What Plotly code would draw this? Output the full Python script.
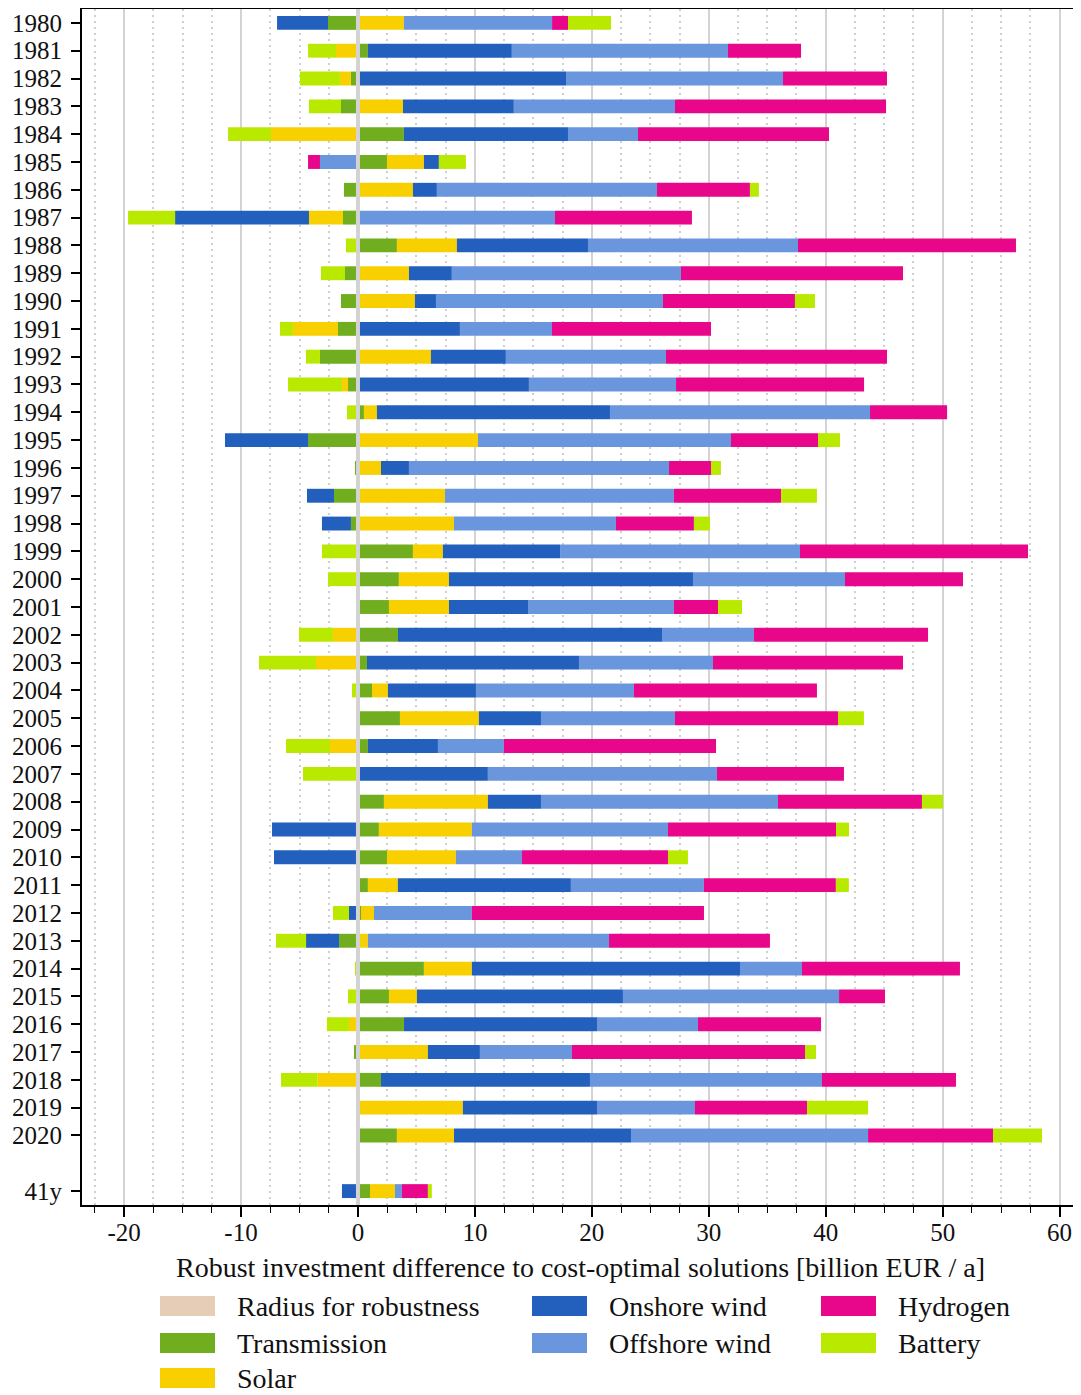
import plotly.graph_objects as go

# ---------------- data ----------------
categories = ["1980", "1981", "1982", "1983", "1984", "1985", "1986", "1987", "1988", "1989",
              "1990", "1991", "1992", "1993", "1994", "1995", "1996", "1997", "1998", "1999",
              "2000", "2001", "2002", "2003", "2004", "2005", "2006", "2007", "2008", "2009",
              "2010", "2011", "2012", "2013", "2014", "2015", "2016", "2017", "2018", "2019",
              "2020", "41y"]

transmission = [-2.56, 0.85, -0.6, -1.45, 3.93, 2.48, -1.2, -1.28, 3.33, -1.11,
                -1.45, -1.71, -3.25, -0.85, 0.51, -4.27, -0.26, -2.05, -0.6, 4.7,
                3.5, 2.65, 3.42, 0.77, 1.2, 3.59, 0.85, 0.0, 2.22, 1.79,
                2.48, 0.85, 0.26, -1.62, 5.64, 2.65, 3.93, -0.34, 1.97, 0.0,
                3.33, 1.03]
solar = [3.93, -1.88, -0.94, 3.85, -7.44, 3.16, 4.7, -2.91, 5.13, 4.36,
         4.87, -3.85, 6.24, -0.51, 1.11, 10.26, 1.97, 7.44, 8.21, 2.56,
         4.28, 5.13, -2.14, -3.59, 1.36, 6.75, -2.39, 0.0, 8.89, 7.95,
         5.9, 2.56, 1.11, 0.85, 4.1, 2.39, -0.77, 5.98, -3.45, 8.97,
         4.88, 2.13]
onshore_wind = [-4.36, 12.31, 17.79, 9.48, 14.03, 1.28, 2.05, -11.45, 11.21, 3.67,
                1.8, 8.72, 6.41, 14.62, 19.93, -7.1, 2.39, -2.31, -2.48, 10.02,
                20.87, 6.76, 22.58, 18.13, 7.53, 5.31, 5.99, 11.11, 4.54, -7.35,
                -7.18, 14.8, -0.77, -2.82, 22.93, 17.62, 16.51, 4.45, 17.87, 11.47,
                15.14, -1.37]
offshore_wind = [12.67, 18.48, 18.56, 13.78, 5.99, -3.25, 18.82, 16.85, 17.96, 19.59,
                 19.41, 7.87, 13.69, 12.58, 22.24, 21.64, 22.24, 19.58, 13.85, 20.52,
                 13.0, 12.48, 7.87, 11.46, 13.51, 11.46, 5.64, 19.59, 20.27, 16.77,
                 5.65, 11.37, 8.37, 20.62, 5.3, 18.48, 8.64, 7.87, 19.84, 8.38,
                 20.27, 0.6]
hydrogen = [1.36, 6.25, 8.89, 18.05, 16.33, -1.02, 7.95, 11.71, 18.64, 18.99,
            11.29, 13.6, 18.9, 16.08, 6.59, 7.44, 3.59, 9.16, 6.67, 19.5,
            10.09, 3.77, 14.88, 16.25, 15.65, 13.94, 18.14, 10.86, 12.31, 14.37,
            12.48, 11.29, 19.85, 13.76, 13.51, 3.93, 10.52, 19.93, 11.46, 9.58,
            10.69, 2.22]
battery = [3.68, -2.39, -3.42, -2.74, -3.67, 2.31, 0.77, -4.02, -1.03, -2.05,
           1.71, -1.11, -1.2, -4.62, -0.94, 1.88, 0.85, 3.07, 1.37, -3.08,
           -2.56, 2.05, -2.9, -4.87, -0.51, 2.22, -3.76, -4.7, 1.8, 1.11,
           1.71, 1.11, -1.37, -2.57, -0.26, -0.85, -1.88, 0.94, -3.13, 5.22,
           4.19, 0.34]

x_ticks = [-20, -10, 0, 10, 20, 30, 40, 50, 60]
x_title = "Robust investment difference to cost-optimal solutions [billion EUR / a]"

# ---------------- styling ----------------
FONT = "Liberation Serif"
TEXT_SIZE = 28
TICK_SIZE = 25
colors = {
    "Radius for robustness": "#e6cdb8",
    "Transmission": "#70ae20",
    "Solar": "#f8d000",
    "Onshore wind": "#2360bd",
    "Offshore wind": "#6a96de",
    "Hydrogen": "#e8068a",
    "Battery": "#bae900",
}

# category row positions (one blank row before the 41y aggregate)
row_pos = list(range(len(categories) - 1)) + [len(categories)]

fig = go.Figure()
for name, vals in [("Transmission", transmission), ("Solar", solar),
                   ("Onshore wind", onshore_wind), ("Offshore wind", offshore_wind),
                   ("Hydrogen", hydrogen), ("Battery", battery)]:
    fig.add_trace(go.Bar(
        y=row_pos, x=vals, orientation="h", name=name,
        marker=dict(color=colors[name], line=dict(width=0)),
        width=0.5, showlegend=False,
    ))

# the page body has an 8px default margin; size the figure to fill the window
OFF = 8
W, H = 1081 - OFF, 1395 - OFF
L, R, T, B = 82 - OFF, 2, 1, 1395 - 1205
pw, ph = W - L - R, H - T - B


def px2paper(px, py):
    """page pixel -> paper coordinates"""
    fx, fy = px - OFF, py - OFF
    return (fx - L) / pw, (H - B - fy) / ph


shapes = [dict(type="line", xref="x", yref="paper", x0=0, x1=0, y0=0, y1=1,
               line=dict(color="#d3d3d3", width=4), layer="above")]
annotations = []

legend_layout = [
    ("Radius for robustness", 160, 1306),
    ("Transmission", 160, 1343),
    ("Solar", 160, 1378),
    ("Onshore wind", 532, 1306),
    ("Offshore wind", 532, 1343),
    ("Hydrogen", 821, 1306),
    ("Battery", 821, 1343),
]
for name, px, py in legend_layout:
    x0, y0 = px2paper(px, py + 10)
    x1, y1 = px2paper(px + 55, py - 10)
    shapes.append(dict(type="rect", xref="paper", yref="paper", x0=x0, x1=x1, y0=y0, y1=y1,
                       fillcolor=colors[name], line=dict(width=0), layer="above"))
    tx, ty = px2paper(px + 76, py)
    annotations.append(dict(xref="paper", yref="paper", x=tx, y=ty, text=name,
                            showarrow=False, xanchor="left", yanchor="middle",
                            borderpad=0,
                            font=dict(family=FONT, size=TEXT_SIZE, color="#111111")))

fig.update_layout(
    width=W, height=H,
    margin=dict(l=L, r=R, t=T, b=B, pad=0, autoexpand=False),
    paper_bgcolor="white", plot_bgcolor="white",
    barmode="relative", bargap=0.5,
    font=dict(family=FONT, size=TICK_SIZE, color="#111111"),
    shapes=shapes, annotations=annotations,
    showlegend=False,
)
fig.update_xaxes(
    automargin=False,
    range=[-23.6, 61.66],
    tickvals=x_ticks, ticktext=[str(v) for v in x_ticks],
    ticks="outside", ticklen=10, tickwidth=1.5, tickcolor="black",
    ticklabelstandoff=-6,
    showline=True, linecolor="black", linewidth=2, mirror=True,
    showgrid=True, gridcolor="#d3d3d3", gridwidth=2,
    zeroline=False,
    minor=dict(dtick=2.5, tick0=0, ticks="outside", ticklen=6, tickwidth=1,
               tickcolor="black", showgrid=True, gridcolor="#cfcfcf",
               gridwidth=1.5, griddash="2px,4px"),
    title=dict(text=x_title, standoff=12, font=dict(family=FONT, size=TEXT_SIZE)),
    tickfont=dict(family=FONT, size=TICK_SIZE),
)
fig.update_yaxes(
    automargin=False,
    range=[len(categories) + 0.5, -0.5],
    tickvals=row_pos, ticktext=categories,
    ticks="outside", ticklen=9, tickwidth=2, tickcolor="black",
    ticklabelstandoff=4,
    showline=True, linecolor="black", linewidth=2,
    showgrid=False, zeroline=False,
    tickfont=dict(family=FONT, size=TICK_SIZE),
)

fig.write_html("out.html")
